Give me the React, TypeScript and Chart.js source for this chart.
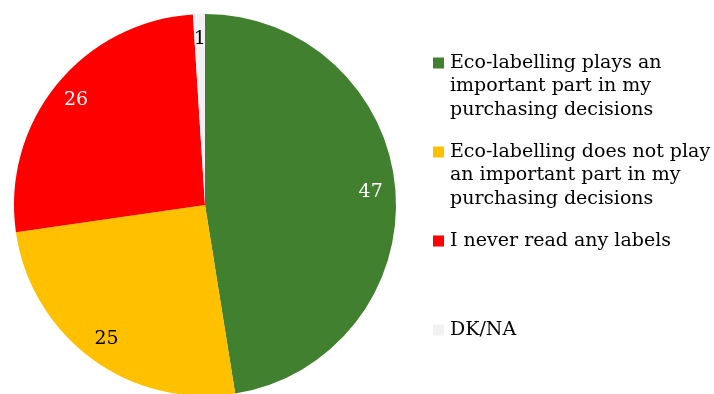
import React, { useEffect, useRef } from "react";
import { Chart, registerables } from "chart.js";

Chart.register(...registerables);

const categories = [
  "Eco-labelling plays an important part in my purchasing decisions",
  "Eco-labelling does not play an important part in my purchasing decisions",
  "I never read any labels",
  "DK/NA",
];
const legendLines = [
  ["Eco-labelling plays an", "important part in my", "purchasing decisions"],
  ["Eco-labelling does not play", "an important part in my", "purchasing decisions"],
  ["I never read any labels"],
  ["DK/NA"],
];
const values = [47, 25, 26, 1];
const colors = ["#41802F", "#FFC000", "#FF0000", "#F2F2F2"];
const labelColors = ["#FFFFFF", "#000000", "#FFFFFF", "#000000"];

const FONT = '"DejaVu Serif", serif';

const sliceLabels = {
  id: "sliceLabels",
  afterDatasetsDraw(chart: any) {
    const ctx = chart.ctx;
    const meta = chart.getDatasetMeta(0);
    ctx.save();
    ctx.font = `19px ${FONT}`;
    ctx.textAlign = "center";
    ctx.textBaseline = "middle";
    meta.data.forEach((arc: any, i: number) => {
      const { x, y, startAngle, endAngle, outerRadius } = arc.getProps(
        ["x", "y", "startAngle", "endAngle", "outerRadius"],
        true
      );
      const mid = (startAngle + endAngle) / 2;
      const r = outerRadius * 0.87;
      ctx.fillStyle = labelColors[i];
      ctx.fillText(String(values[i]), x + Math.cos(mid) * r, y + Math.sin(mid) * r);
    });
    ctx.restore();
  },
};

const sideLegend = {
  id: "sideLegend",
  afterDraw(chart: any) {
    const ctx = chart.ctx;
    ctx.save();
    ctx.font = `19px ${FONT}`;
    ctx.textAlign = "left";
    ctx.textBaseline = "middle";
    const markerX = 433;
    const textX = 450;
    const firstY = 63;
    const lineH = 23.5;
    const entryGap = 89;
    legendLines.forEach((lines, i) => {
      const y0 = firstY + i * entryGap;
      ctx.fillStyle = colors[i];
      ctx.fillRect(markerX, y0 - 5.5, 11, 11);
      ctx.fillStyle = "#000000";
      lines.forEach((ln, j) => ctx.fillText(ln, textX, y0 + j * lineH));
    });
    ctx.restore();
  },
};

export default function App() {
  const ref = useRef<HTMLCanvasElement | null>(null);
  useEffect(() => {
    if (!ref.current) return;
    const chart = new Chart(ref.current, {
      type: "pie",
      data: {
        labels: categories,
        datasets: [
          {
            data: values,
            backgroundColor: colors,
            borderWidth: 0,
          },
        ],
      },
      options: {
        animation: false,
        responsive: false,
        devicePixelRatio: 1,
        layout: { padding: { left: 14, top: 14, right: 318, bottom: 2 } },
        plugins: {
          legend: { display: false },
          tooltip: { enabled: false },
        },
      },
      plugins: [sliceLabels, sideLegend],
    });
    return () => chart.destroy();
  }, []);
  return (
    <div style={{ position: "absolute", left: 0, top: 0, width: 714, height: 394, overflow: "hidden", background: "#fff" }}>
      <canvas ref={ref} width={714} height={398} style={{ display: "block", width: 714, height: 398 }} />
    </div>
  );
}
